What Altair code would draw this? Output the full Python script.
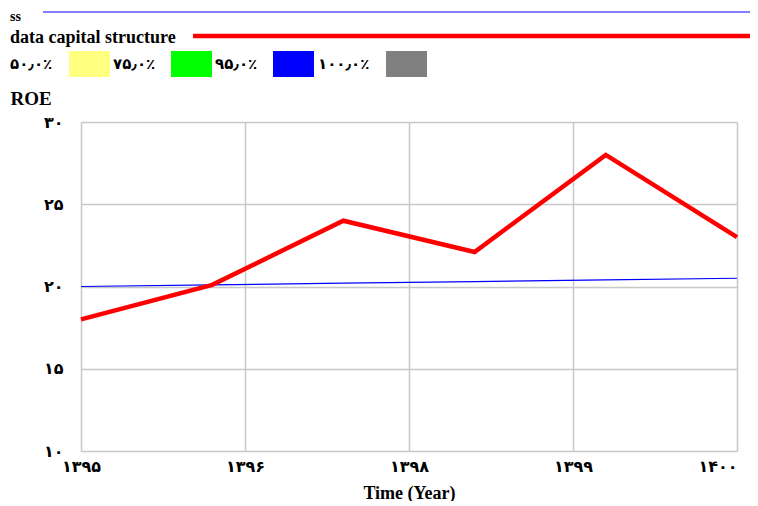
import altair as alt
import pandas as pd

# ---- data ----
years = [1395, 1396, 1397, 1398, 1399, 1400]
ss_values = [20.0, 20.1, 20.2, 20.3, 20.4, 20.5]
capital_values = [18.0, 20.1, 24.0, 22.1, 28.0, 23.0]
series_names = ["ss", "data capital structure"]
series_colors = ["#0000FF", "#FF0000"]
series_widths = [1.2, 4.5]

x_tick_values = [1395, 1396.25, 1397.5, 1398.75, 1400]
x_tick_labels = ["۱۳۹۵", "۱۳۹۶", "۱۳۹۸", "۱۳۹۹", "۱۴۰۰"]
y_tick_values = [10, 15, 20, 25, 30]
y_tick_labels = ["۱۰", "۱۵", "۲۰", "۲۵", "۳۰"]

band_labels = ["۵۰٫۰٪", "۷۵٫۰٪", "۹۵٫۰٪", "۱۰۰٫۰٪"]
band_colors = ["#FFFF80", "#00FF00", "#0000FF", "#808080"]

rows = []
for name, vals in zip(series_names, [ss_values, capital_values]):
    for yr, v in zip(years, vals):
        rows.append({"year": yr, "value": v, "series": name})
df = pd.DataFrame(rows)


def label_expr(values, labels):
    expr = "''"
    for v, l in reversed(list(zip(values, labels))):
        expr = f"(abs(datum.value - {v}) < 0.01 ? '{l}' : {expr})"
    return expr


SERIF = "Liberation Serif"
DIGITS = "DejaVu Sans"

W, H = 656, 329

x_enc = alt.X(
    "year:Q",
    scale=alt.Scale(domain=[1395, 1400], nice=False, zero=False),
    axis=alt.Axis(
        values=x_tick_values,
        labelExpr=label_expr(x_tick_values, x_tick_labels),
        ticks=False,
        domain=False,
        labelPadding=7,
        labelFont=DIGITS,
        labelFontWeight="bold",
        labelFontSize=16,
        labelColor="black",
        labelFlush=False,
        labelBound=False,
        labelOverlap=False,
        labelAlign={"condition": {"test": "datum.value >= 1400", "value": "right"}, "value": "center"},
        gridColor="#c8c8c8",
        gridWidth=1.5,
        title="Time (Year)",
        titleFont=SERIF,
        titleFontSize=18,
        titleFontWeight="bold",
        titleColor="black",
        titleBaseline="alphabetic",
        titleY=47,
    ),
)
y_enc = alt.Y(
    "value:Q",
    scale=alt.Scale(domain=[10, 30], nice=False, zero=False),
    axis=alt.Axis(
        values=y_tick_values,
        labelExpr=label_expr(y_tick_values, y_tick_labels),
        ticks=False,
        domain=False,
        labelPadding=18,
        labelFont=DIGITS,
        labelFontWeight="bold",
        labelFontSize=16,
        labelColor="black",
        labelBaseline="middle",
        gridColor="#c8c8c8",
        gridWidth=1.5,
        title="ROE",
        titleAngle=0,
        titleAlign="left",
        titleBaseline="alphabetic",
        titleX=-71,
        titleY=-18,
        titleFont=SERIF,
        titleFontSize=19,
        titleFontWeight="bold",
        titleColor="black",
    ),
)

lines = alt.Chart(df).mark_line().encode(
    x=x_enc,
    y=y_enc,
    color=alt.Color("series:N", scale=alt.Scale(domain=series_names, range=series_colors), legend=None),
    strokeWidth=alt.StrokeWidth("series:N", scale=alt.Scale(domain=series_names, range=series_widths), legend=None),
    order=alt.Order("year:Q"),
)

one = pd.DataFrame({"k": [0]})

# ---- header legend (Vensim style) ----
hdr_text = alt.Chart(one).mark_text(
    font=SERIF, fontWeight="bold", fontSize=18, align="left", baseline="alphabetic", color="black"
)
ss_txt = hdr_text.encode(x=alt.value(-71), y=alt.value(-101), text=alt.value(series_names[0]), size=alt.value(14))
cap_txt = hdr_text.encode(x=alt.value(-71), y=alt.value(-79), text=alt.value(series_names[1]))
ss_rule = alt.Chart(one).mark_rule(color=series_colors[0], strokeWidth=1.2).encode(
    x=alt.value(-38), x2=alt.value(680), y=alt.value(-110)
)
cap_rule = alt.Chart(one).mark_rule(color=series_colors[1], strokeWidth=4.5).encode(
    x=alt.value(112), x2=alt.value(680), y=alt.value(-86)
)

band_layers = []
label_x = [-71, 32, 134, 237]
for lx, lab, col in zip(label_x, band_labels, band_colors):
    band_layers.append(
        alt.Chart(one).mark_text(
            font=DIGITS, fontWeight="bold", fontSize=15, align="left", baseline="middle", color="black"
        ).encode(x=alt.value(lx), y=alt.value(-58), text=alt.value(lab))
    )
swatch_x = [-12, 90, 192, 305]
for sx, col in zip(swatch_x, band_colors):
    band_layers.append(
        alt.Chart(one).mark_rect(color=col).encode(
            x=alt.value(sx), x2=alt.value(sx + 41), y=alt.value(-71), y2=alt.value(-45)
        )
    )

chart = alt.layer(lines, ss_rule, cap_rule, ss_txt, cap_txt, *band_layers).properties(
    width=W,
    height=H,
    autosize=alt.AutoSizeParams(type="none"),
    padding={"left": 73, "top": 114, "right": 13, "bottom": 50},
).configure_view(stroke="#444444", strokeWidth=1.5).configure(background="white")

chart.save("out.html", embed_options={"renderer": "svg", "actions": False})
